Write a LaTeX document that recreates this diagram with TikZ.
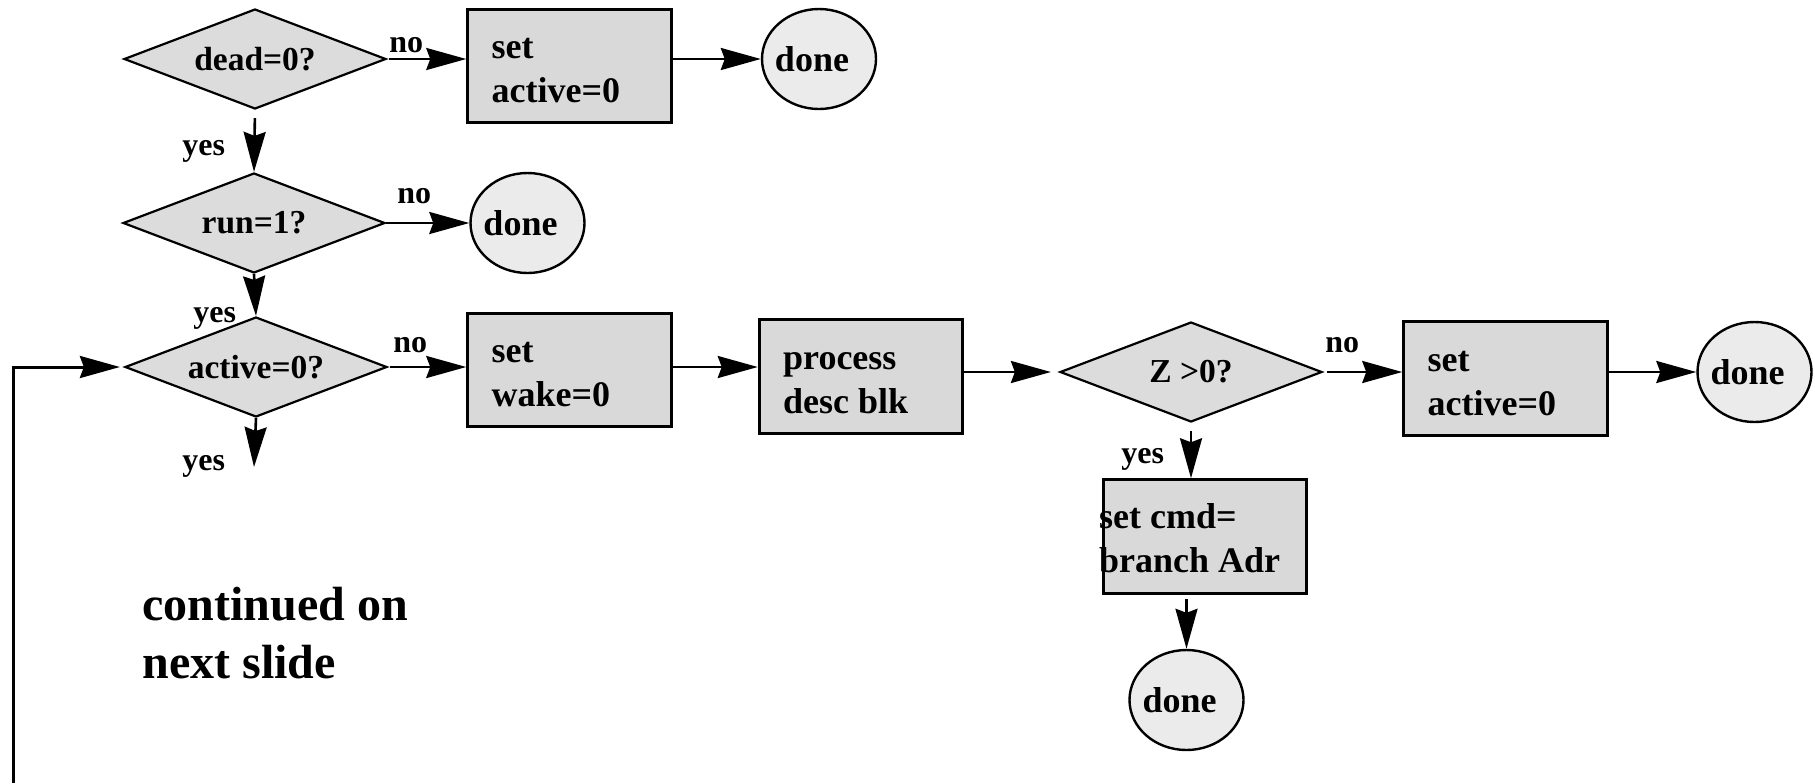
\documentclass[tikz,border=0pt]{standalone}
\usepackage{fontspec}
\setmainfont{Liberation Serif}
\usetikzlibrary{shapes.geometric,arrows.meta}
\definecolor{boxfill}{HTML}{D9D9D9}
\definecolor{circfill}{HTML}{EBEBEB}
\definecolor{diafill}{HTML}{DCDCDC}
\newcommand\twolines[2]{\vtop{\hbox{#1}\hbox{#2}}}
\newcommand\donetext{\makebox[0pt][c]{done\hspace*{7pt}}}
\begin{document}
\begin{tikzpicture}[x=0.5pt,y=-0.5pt,
  procbox/.style={draw, line width=1.5pt, fill=boxfill, minimum width=101.75pt, minimum height=56.75pt, inner sep=0pt},
  decision/.style={diamond, aspect=2.62, draw, line width=1.1pt, fill=diafill, minimum width=131pt, minimum height=50pt, inner sep=0pt, font=\fontsize{16.75}{20}\selectfont\bfseries},
  endnode/.style={ellipse, draw, line width=1.2pt, fill=circfill, minimum width=57pt, minimum height=50pt, inner sep=0pt, font=\fontsize{18}{22}\selectfont\bfseries},
  boxtext/.style={anchor=base west, inner sep=0pt, font=\fontsize{18}{22}\selectfont\bfseries},
  branchlabel/.style={anchor=base west, inner sep=0pt, font=\fontsize{16}{19}\selectfont\bfseries},
  flow/.style={line width=1.3pt, -{Stealth[length=20pt,width=11pt,inset=2pt]}},
]
\fill[white] (0,0) rectangle (1815,783);
\useasboundingbox (0,0) rectangle (1815,783);

% shapes
\node[decision] (d1) at (255,59) {dead=0?};
\node[procbox] (b1) at (569.5,66) {};
\node[endnode] (c1) at (819,59) {\donetext};
\node[decision] (d2) at (254,223) {run=1?};
\node[endnode] (c2) at (527.5,223) {\donetext};
\node[decision] (d3) at (256,367) {active=0?};
\node[procbox] (b3) at (569.5,370) {};
\node[procbox] (b4) at (861,376.5) {};
\node[decision] (dz) at (1191,372) {Z >0?};
\node[procbox] (b5) at (1505.5,378.5) {};
\node[endnode] (c5) at (1754.5,372) {\donetext};
\node[procbox] (b6) at (1205,536.5) {};
\node[endnode] (c6) at (1186.5,700) {\donetext};

% box texts
\node[boxtext] (b1t) at ([shift={(25,51)}]b1.north west) {\twolines{set}{active=0}};
\node[boxtext] (b3t) at ([shift={(25,51)}]b3.north west) {\twolines{set}{wake=0}};
\node[boxtext] (b4t) at ([shift={(25,51)}]b4.north west) {\twolines{process}{desc blk}};
\node[boxtext] (b5t) at ([shift={(25,51)}]b5.north west) {\twolines{set}{active=0}};
\node[boxtext] (b6t) at ([shift={(-3,50)}]b6.north west) {\twolines{set cmd=}{branch Adr}};

% branch labels
\node[branchlabel] (l1) at (389,52) {no};
\node[branchlabel] (l2) at (182,155) {yes};
\node[branchlabel] (l3) at (397,203) {no};
\node[branchlabel] (l4) at (193,322) {yes};
\node[branchlabel] (l5) at (393,352) {no};
\node[branchlabel] (l6) at (182,470) {yes};
\node[branchlabel] (l7) at (1325,352) {no};
\node[branchlabel] (l8) at (1121,463) {yes};

\node[anchor=base west, inner sep=0pt, font=\fontsize{24}{29}\selectfont\bfseries] (cont) at (142,620) {\twolines{continued on}{next slide}};

% connectors
\coordinate (d3out) at (254,467);
\coordinate (fb) at (13,783);
\draw[flow, shorten <=1pt] (d1.east) -- (d1.east -| b1.west);
\draw[flow] (c1.west -| b1.east) -- (c1.west);
\draw[flow, shorten <=4pt] (d1.south) -- (d2.north);
\draw[flow] (d2.east) -- (c2.west);
\draw[flow] (d2.south) -- (d3.north);
\draw[flow, shorten <=1pt] (d3.east) -- (d3.east -| b3.west);
\draw[flow] (d3.south) -- (d3out);
\draw[flow] (b3.east |- d3.east) -- (b4.west |- d3.east);
\draw[flow, shorten >=4pt] (b4.east |- dz.west) -- (dz.west);
\draw[flow, shorten <=2pt] (dz.east) -- (dz.east -| b5.west);
\draw[flow] (c5.west -| b5.east) -- (c5.west);
\draw[flow, shorten <=4pt] (dz.south) -- (dz.south |- b6.north);
\draw[flow, shorten <=2pt] (b6.south -| c6.north) -- (c6.north);
\draw[flow, line width=1.5pt, shorten >=2pt] (fb) |- (d3.west);
\end{tikzpicture}
\end{document}
